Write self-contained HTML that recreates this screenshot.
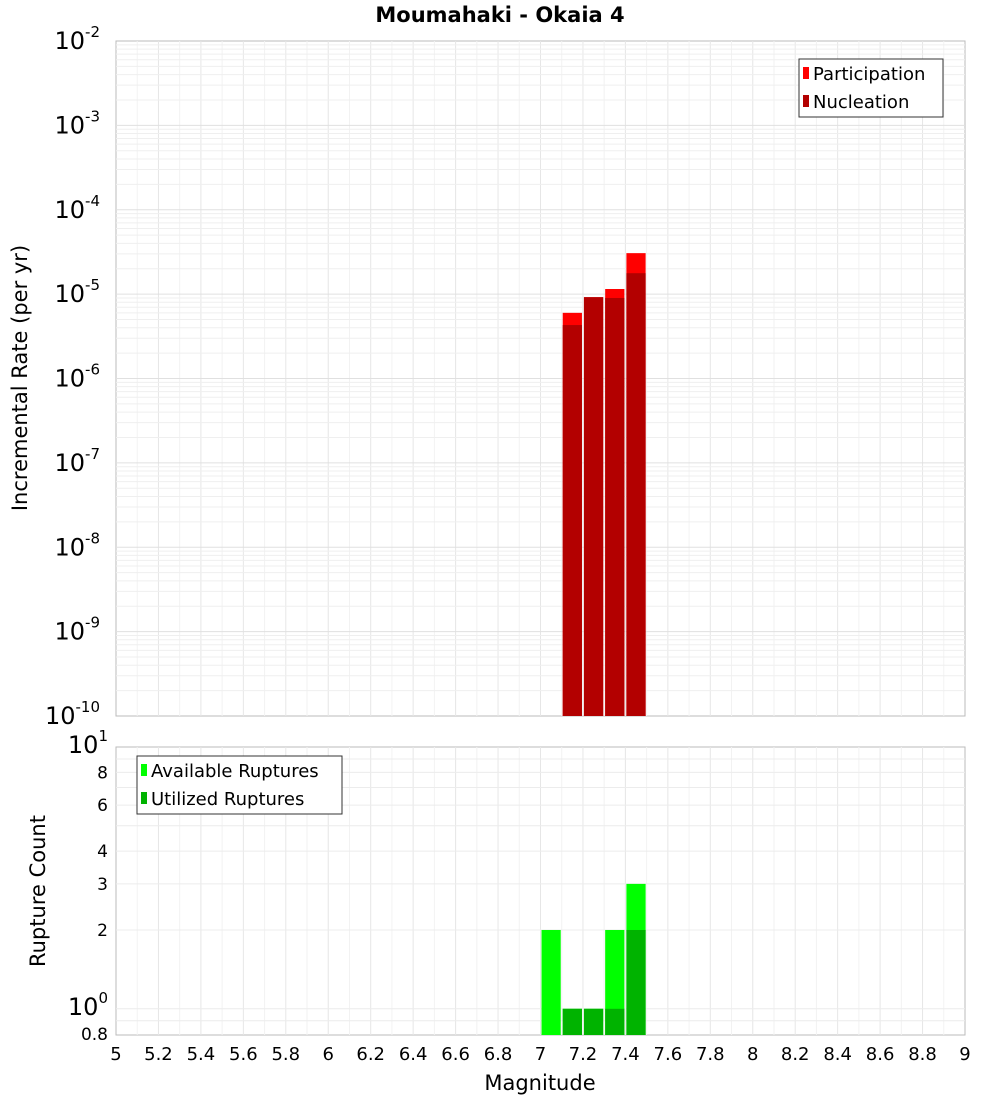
<!DOCTYPE html>
<html><head><meta charset="utf-8"><style>
body{margin:0;background:#fff;font-family:"Liberation Sans","DejaVu Sans",sans-serif;}
</style></head><body>
<svg id="c" width="1000" height="1100" xmlns="http://www.w3.org/2000/svg" font-family="DejaVu Sans, Liberation Sans, sans-serif">
<text x="500" y="22" text-anchor="middle" font-size="21" font-weight="bold">Moumahaki - Okaia 4</text>
<text transform="translate(27,378) rotate(-90)" text-anchor="middle" font-size="21">Incremental Rate (per yr)</text>
<text transform="translate(45,891) rotate(-90)" text-anchor="middle" font-size="21">Rupture Count</text>
<text x="540" y="1090" text-anchor="middle" font-size="21">Magnitude</text>
<g id="topPlot"></g>
<g id="botPlot"></g>
<g id="xt"></g>
<g>
<rect x="799" y="59" width="144" height="58" fill="#fff" stroke="#333"/>
<rect x="803" y="67" width="6" height="12" fill="#ff0000"/><text x="813" y="80" font-size="18">Participation</text>
<rect x="803" y="95" width="6" height="12" fill="#b30000"/><text x="813" y="108" font-size="18">Nucleation</text>
</g>
<g>
<rect x="137" y="756" width="205" height="58" fill="#fff" stroke="#333"/>
<rect x="141" y="764" width="6" height="12" fill="#00ff00"/><text x="151" y="777" font-size="18">Available Ruptures</text>
<rect x="141" y="792" width="6" height="12" fill="#00b300"/><text x="151" y="805" font-size="18">Utilized Ruptures</text>
</g>
</svg>
<script>
const bins=[7.0,7.1,7.2,7.3,7.4];
const participation=[0,6.0e-6,9.2e-6,1.15e-5,3.06e-5];
const nucleation=[0,4.3e-6,9.2e-6,9.0e-6,1.77e-5];
const available=[2,1,1,2,3];
const utilized=[0,1,1,1,2];
const xTicks=[5,5.2,5.4,5.6,5.8,6,6.2,6.4,6.6,6.8,7,7.2,7.4,7.6,7.8,8,8.2,8.4,8.6,8.8,9];
const topExps=[-10,-9,-8,-7,-6,-5,-4,-3,-2];
const botTicks=[0.8,1,2,3,4,6,8,10];

const NS="http://www.w3.org/2000/svg";
const L=116,R=965,T1=41,B1=716,T2=747,B2=1035;
const X=m=>L+(m-5)/4*(R-L);
const Y1=v=>B1-(Math.log10(v)+10)/8*(B1-T1);
const Y2=v=>T2+(1-Math.log10(v))*261.8;
function mk(p,t,a){const e=document.createElementNS(NS,t);for(const k in a)e.setAttribute(k,a[k]);p.appendChild(e);return e;}
const gTop=document.getElementById('topPlot'),gBot=document.getElementById('botPlot'),xt=document.getElementById('xt');
for(const [g,T,B] of [[gTop,T1,B1],[gBot,T2,B2]]){
  mk(g,'rect',{x:L,y:T,width:R-L,height:B-T,fill:'#fff',stroke:'#bbb'});
  for(let i=1;i<40;i++){const x=X(5+i*0.1);mk(g,'line',{x1:x,x2:x,y1:T,y2:B,stroke:i%2?'#f2f2f2':'#e6e6e6'});}
}
for(let e=-10;e<-2;e++)for(let k=1;k<10;k++){const y=Y1(k*Math.pow(10,e));if(y<=T1||y>=B1)continue;mk(gTop,'line',{x1:L,x2:R,y1:y,y2:y,stroke:k==1?'#e0e0e0':'#efefef'});}
[0.9,1,2,3,4,5,6,7,8,9].forEach(v=>{const y=Y2(v);mk(gBot,'line',{x1:L,x2:R,y1:y,y2:y,stroke:'#ececec'});});
topExps.forEach(e=>{const y=Y1(Math.pow(10,e));const t=mk(gTop,'text',{x:100,y:y+8,'text-anchor':'end','font-size':24});
  
  
  t.textContent='10';const s=mk(t,'tspan',{dy:-12,'font-size':15});s.textContent=String(e);});
botTicks.forEach(v=>{const y=Y2(v);const big=(v==1||v==10);const t=mk(gBot,'text',{x:108,y:y+6,'text-anchor':'end','font-size':big?24:17});
  
  
  if(big){t.textContent='10';const s=mk(t,'tspan',{dy:-12,'font-size':15});s.textContent=v==1?'0':'1';}else t.textContent=String(v);});
xTicks.forEach(m=>{const t=mk(xt,'text',{x:X(m),y:1060,'text-anchor':'middle','font-size':18});
  
  
  t.textContent=String(m);});
const bw=(X(5.1)-X(5))-2;
bins.forEach((m,i)=>{
  const x=X(m)+1;
  if(participation[i]>0){const r=mk(gTop,'rect',{x:x,y:Y1(participation[i]),width:bw,height:B1-Y1(participation[i]),fill:'#ff0000'});
    
    }
  if(nucleation[i]>0){const r=mk(gTop,'rect',{x:x,y:Y1(nucleation[i]),width:bw,height:B1-Y1(nucleation[i]),fill:'#b30000'});
    
    }
  if(available[i]>0){const r=mk(gBot,'rect',{x:x,y:Y2(available[i]),width:bw,height:B2-Y2(available[i]),fill:'#00ff00'});
    
    }
  if(utilized[i]>0){const r=mk(gBot,'rect',{x:x,y:Y2(utilized[i]),width:bw,height:B2-Y2(utilized[i]),fill:'#00b300'});
    
    }
});
</script>
</body></html>
